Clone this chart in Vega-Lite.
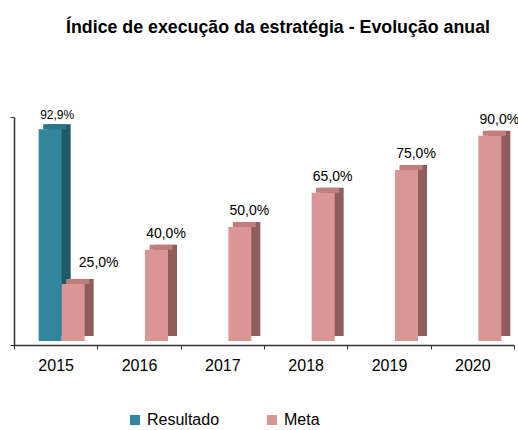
{
  "$schema": "https://vega.github.io/schema/vega-lite/v6.json",
  "width": 500,
  "height": 228,
  "autosize": "none",
  "padding": {"left": 14, "top": 117, "right": 4, "bottom": 85},
  "background": "white",
  "config": {
    "view": {"stroke": null},
    "font": "Liberation Sans",
    "locale": {"number": {"decimal": ",", "thousands": ".", "grouping": [3], "currency": ["", " €"]}}
  },
  "title": {
    "text": "Índice de execução da estratégia - Evolução anual",
    "font": "Liberation Sans",
    "fontSize": 17.8,
    "fontWeight": "bold",
    "color": "#000000",
    "anchor": "middle",
    "dx": 14,
    "frame": "group",
    "baseline": "alphabetic",
    "offset": 58
  },
  "data": {
    "values": [
      {"year": "2015", "series": "Resultado", "value": 0.929},
      {"year": "2015", "series": "Meta", "value": 0.25},
      {"year": "2016", "series": "Meta", "value": 0.40},
      {"year": "2017", "series": "Meta", "value": 0.50},
      {"year": "2018", "series": "Meta", "value": 0.65},
      {"year": "2019", "series": "Meta", "value": 0.75},
      {"year": "2020", "series": "Meta", "value": 0.90}
    ]
  },
  "encoding": {
    "x": {
      "field": "year",
      "type": "nominal",
      "scale": {"paddingInner": 0, "paddingOuter": 0},
      "axis": {
        "title": null,
        "labelAngle": 0,
        "labelFont": "Liberation Sans",
        "labelFontSize": 16,
        "labelColor": "#000000",
        "tickBand": "extent",
        "tickSize": 4,
        "tickColor": "#333333",
        "domainColor": "#333333",
        "domainWidth": 1.5,
        "labelPadding": 8
      }
    },
    "y": {
      "field": "value",
      "type": "quantitative",
      "scale": {"domain": [0, 1], "nice": false},
      "axis": {
        "title": null,
        "values": [0, 1],
        "labels": false,
        "grid": false,
        "tickSize": 4,
        "tickColor": "#333333",
        "domainColor": "#333333",
        "domainWidth": 1.5
      }
    }
  },
  "layer": [
    {
      "transform": [{"filter": "datum.series === 'Resultado'"}],
      "mark": {"type": "bar", "width": 23, "xOffset": 3.5, "yOffset": -9, "y2Offset": -9, "color": "#215968"}
    },
    {
      "transform": [{"filter": "datum.series === 'Resultado'"}],
      "mark": {"type": "bar", "width": 23, "xOffset": -1, "yOffset": -9, "y2Offset": -4, "color": "#2B7589"},
      "encoding": {"y2": {"field": "value"}}
    },
    {
      "transform": [{"filter": "datum.series === 'Meta'"}],
      "mark": {"type": "bar", "width": 23, "xOffset": 26.5, "yOffset": -9, "y2Offset": -9, "color": "#8E5E5C"}
    },
    {
      "transform": [{"filter": "datum.series === 'Meta'"}],
      "mark": {"type": "bar", "width": 23, "xOffset": 22, "yOffset": -9, "y2Offset": -4, "color": "#C07E7C"},
      "encoding": {"y2": {"field": "value"}}
    },
    {
      "transform": [{"filter": "datum.series === 'Resultado'"}],
      "mark": {"type": "bar", "width": 23, "xOffset": -5.5, "yOffset": -4, "y2Offset": -4},
      "encoding": {
        "color": {
          "field": "series",
          "type": "nominal",
          "scale": {"domain": ["Resultado", "Meta"], "range": ["#31859C", "#D99694"]},
          "legend": {
            "title": null,
            "orient": "none",
            "direction": "horizontal",
            "legendX": 113,
            "legendY": 295,
            "symbolType": "square",
            "symbolSize": 100,
            "symbolStrokeWidth": 0,
            "labelFont": "Liberation Sans",
            "labelFontSize": 16,
            "labelColor": "#000000",
            "labelOffset": 4,
            "columnPadding": 44
          }
        }
      }
    },
    {
      "transform": [{"filter": "datum.series === 'Meta'"}],
      "mark": {"type": "bar", "width": 23, "xOffset": 17.5, "yOffset": -4, "y2Offset": -4},
      "encoding": {
        "color": {"field": "series", "type": "nominal"}
      }
    },
    {
      "transform": [{"filter": "datum.series === 'Resultado'"}],
      "mark": {"type": "text", "dx": 1.5, "dy": -14, "baseline": "alphabetic", "fontSize": 12, "font": "Liberation Sans", "color": "#000000"},
      "encoding": {"text": {"field": "value", "type": "quantitative", "format": ".1%"}}
    },
    {
      "transform": [{"filter": "datum.series === 'Meta' && datum.year === '2015'"}],
      "mark": {"type": "text", "dx": 43, "dy": -21, "baseline": "alphabetic", "fontSize": 14, "font": "Liberation Sans", "color": "#000000"},
      "encoding": {"text": {"field": "value", "type": "quantitative", "format": ".1%"}}
    },
    {
      "transform": [{"filter": "datum.series === 'Meta' && datum.year !== '2015'"}],
      "mark": {"type": "text", "dx": 27, "dy": -16, "baseline": "alphabetic", "fontSize": 14, "font": "Liberation Sans", "color": "#000000"},
      "encoding": {"text": {"field": "value", "type": "quantitative", "format": ".1%"}}
    }
  ]
}
